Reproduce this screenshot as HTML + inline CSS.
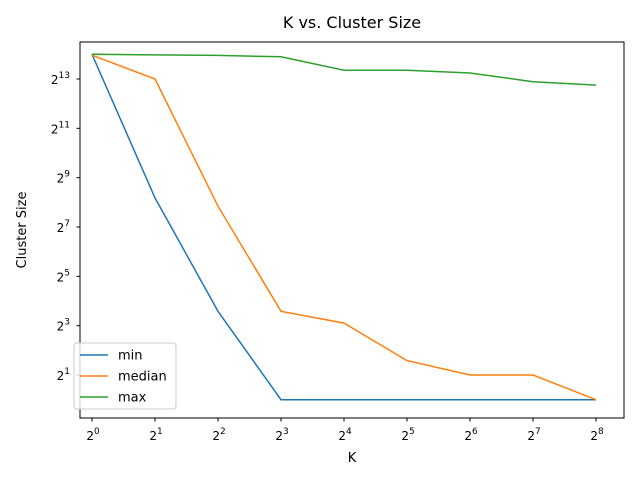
<!DOCTYPE html>
<html><head><meta charset="utf-8"><style>
body{margin:0;background:#fff;}
svg{font-family:"DejaVu Sans","Liberation Sans",sans-serif;}
</style></head><body>
<svg id="chart" width="640" height="480" viewBox="0 0 640 480" xmlns="http://www.w3.org/2000/svg">
<rect width="640" height="480" fill="#fff"/>
<text x="352" y="28" font-size="16" text-anchor="middle">K vs. Cluster Size</text>
<text x="352" y="462" font-size="13" text-anchor="middle">K</text>
<text x="26" y="230" font-size="13" text-anchor="middle" transform="rotate(-90 26 230)">Cluster Size</text>
<g id="plot"></g>
<rect x="80" y="42" width="544" height="376" fill="none" stroke="#000" stroke-width="1"/>
<g id="legend">
<rect x="74" y="343" width="102" height="66" rx="3" fill="#fff" fill-opacity="0.8" stroke="#ccc"/>
</g>
</svg>
<script>
const kValues = [1,2,4,8,16,32,64,128,256];
const minSizes = [16384, 290, 12, 1, 1, 1, 1, 1, 1];
const medianSizes = [16000, 8200, 230, 12, 8.6, 3, 2, 2, 1];
const maxSizes = [16384, 16100, 15900, 15300, 10500, 10500, 9700, 7600, 6900];
const xTickExps = [0,1,2,3,4,5,6,7,8];
const yTickExps = [1,3,5,7,9,11,13];
const seriesNames = ["min","median","max"];
const colors = ["#1f77b4","#ff7f0e","#2ca02c"];
const series = [minSizes, medianSizes, maxSizes];

const NS = "http://www.w3.org/2000/svg";
function xs(v){ const l=Math.log2(v); return 92 + l*63; }
function ys(v){ const l=Math.log2(v); return 399.7 - l*24.67; }
const plot = document.getElementById('plot');
function mk(tag, attrs, parent){ const e=document.createElementNS(NS,tag); for(const k in attrs) e.setAttribute(k,attrs[k]); parent.appendChild(e); return e; }

xTickExps.forEach(e=>{
  const x = xs(Math.pow(2,e));
  const t = mk('line',{x1:x,x2:x,y1:418,y2:421.5,stroke:'#000'},plot);
  
  
  const tx = mk('text',{x:x+1,y:440,'font-size':12,'text-anchor':'middle'},plot);
  
  
  tx.innerHTML = '2<tspan dy="-6" font-size="9">'+e+'</tspan>';
});
yTickExps.forEach(e=>{
  const y = ys(Math.pow(2,e));
  const t = mk('line',{x1:76.5,x2:80,y1:y,y2:y,stroke:'#000'},plot);
  
  
  const tx = mk('text',{x:70,y:y+5,'font-size':12,'text-anchor':'end'},plot);
  
  
  tx.innerHTML = '2<tspan dy="-6" font-size="9">'+e+'</tspan>';
});
series.forEach((s,i)=>{
  const pts = s.map((v,j)=>xs(kValues[j]).toFixed(1)+','+ys(v).toFixed(1)).join(' ');
  const p = mk('polyline',{points:pts,fill:'none',stroke:colors[i],'stroke-width':1.5},plot);
  
  
});
const lg = document.getElementById('legend');
seriesNames.forEach((n,i)=>{
  const y = 355 + i*21;
  const l = mk('line',{x1:80,x2:108,y1:y,y2:y,stroke:colors[i],'stroke-width':1.5},lg);
  
  
  const t = mk('text',{x:118,y:y+4.5,'font-size':13},lg);
  
  
  t.textContent = n;
});
</script>
</body></html>
